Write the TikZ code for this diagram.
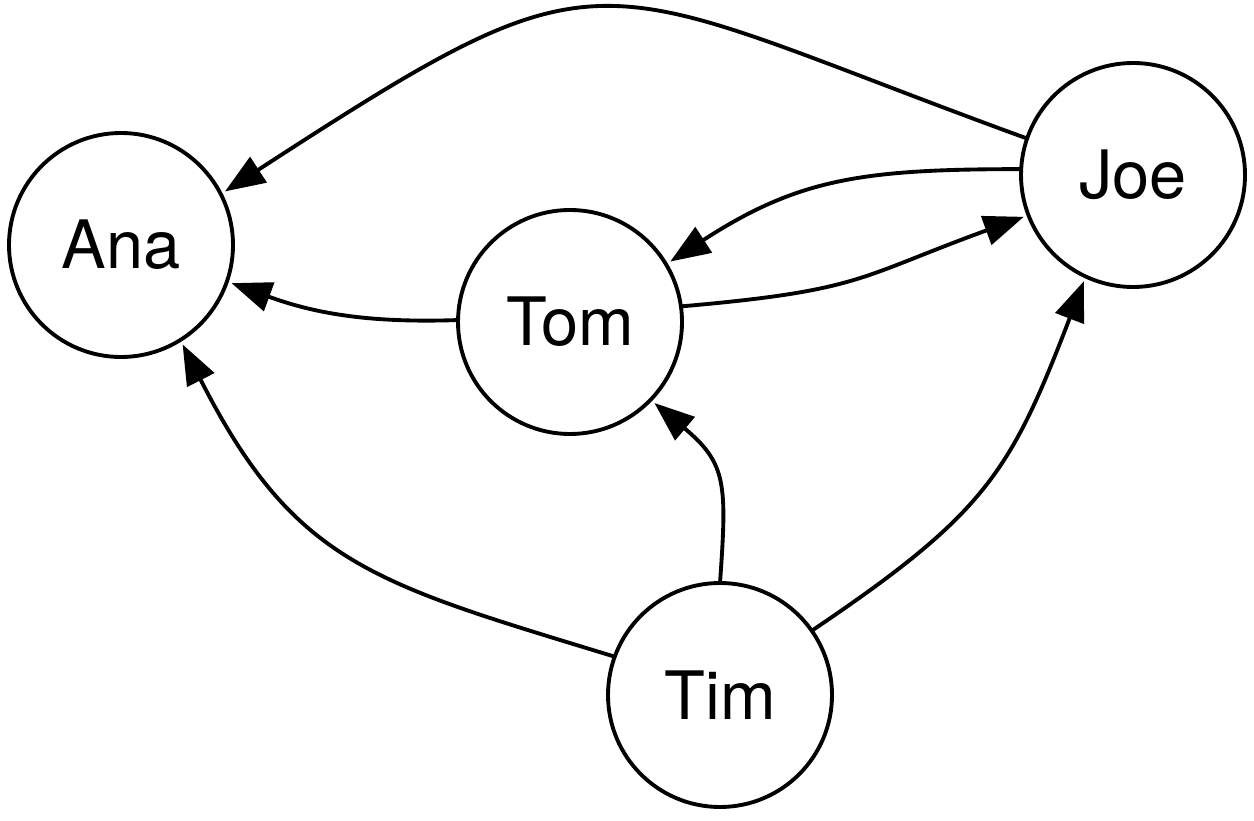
\documentclass[tikz,border=0pt]{standalone}
\usepackage{fontspec}
\setmainfont{TeX Gyre Heros}
\usetikzlibrary{arrows.meta}

\begin{document}
\begin{tikzpicture}[
  every node/.style={font=\fontsize{19}{23}\selectfont},
  person/.style={
    circle, draw=black, line width=1.1pt,
    minimum size=2.24cm, inner sep=0pt, outer sep=0pt,
  },
  link/.style={-{Triangle[length=4mm, width=3mm]}, line width=1.1pt, shorten >=0.5mm},
]
  \useasboundingbox (0,0) rectangle (12.54,8.2);

  \node[person] (ana) at (1.21,5.75) {Ana};
  \node[person] (tom) at (5.70,4.98) {Tom};
  \node[person] (joe) at (11.33,6.45) {Joe};
  \node[person] (tim) at (7.20,1.25) {Tim};

  \draw[link] (joe.161) to[out=160, in=33, looseness=1.5] (ana.27);
  \draw[link] (joe.177) to[out=180, in=33, looseness=1.1] (tom.31);
  \draw[link] (tom.8) to[out=5, in=200, looseness=1.3] (joe.201);
  \draw[link] (tom.179) to[out=182, in=340] (ana.341);
  \draw[link] (tim.160) to[out=163, in=297, looseness=1.2] (ana.302);
  \draw[link] (tim.90) to[out=86, in=320, looseness=1.3] (tom.316);
  \draw[link] (tim.35) to[out=34, in=249, looseness=1.2] (joe.245);
\end{tikzpicture}
\end{document}
